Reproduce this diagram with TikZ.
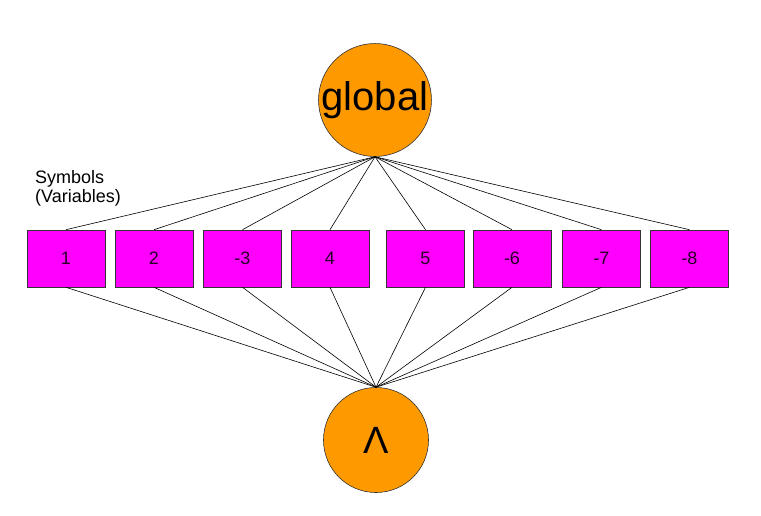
\documentclass[tikz,border=0pt]{standalone}
\usepackage{fontspec}
\setmainfont{Liberation Sans}
\definecolor{orng}{HTML}{FF9900}
\definecolor{mag}{HTML}{FF00FF}
\begin{document}
\begin{tikzpicture}[x=1pt,y=-1pt,
  circ/.style={circle,draw=black!80,fill=orng,minimum size=105pt,inner sep=0pt,line width=0.6pt},
  varbox/.style={rectangle,draw=black!80,fill=mag,minimum width=78pt,minimum height=57pt,inner sep=0pt,line width=0.6pt,font=\fontsize{18}{20}\selectfont,text=black!85!mag},
  link/.style={draw=black,line width=0.6pt}]
\useasboundingbox (0,0) rectangle (761,516);
\node[circ,font=\fontsize{40}{44}\selectfont] (g) at (375,100) {global};
\node[circ,font=\fontsize{38}{40}\selectfont] (a) at (376,440) {Λ};
\node[varbox] (b1) at (66,258.5) {1};
\node[varbox] (b2) at (154,258.5) {2};
\node[varbox] (b3) at (242.5,258.5) {-3};
\node[varbox] (b4) at (330,258.5) {4};
\node[varbox] (b5) at (425.5,258.5) {5};
\node[varbox] (b6) at (512,258.5) {-6};
\node[varbox] (b7) at (601.5,258.5) {-7};
\node[varbox] (b8) at (689.5,258.5) {-8};
\coordinate (gb) at (g.south);
\coordinate (at) at (a.north);
\foreach \i in {1,...,8}{
  \draw[link] (b\i.north) -- (gb);
  \draw[link] (b\i.south) -- (at);
}
\node[anchor=base west,align=left,inner sep=0pt,font=\fontsize{18}{19}\selectfont] (sym) at (35,203) {Symbols\\(Variables)};
\end{tikzpicture}
\end{document}
